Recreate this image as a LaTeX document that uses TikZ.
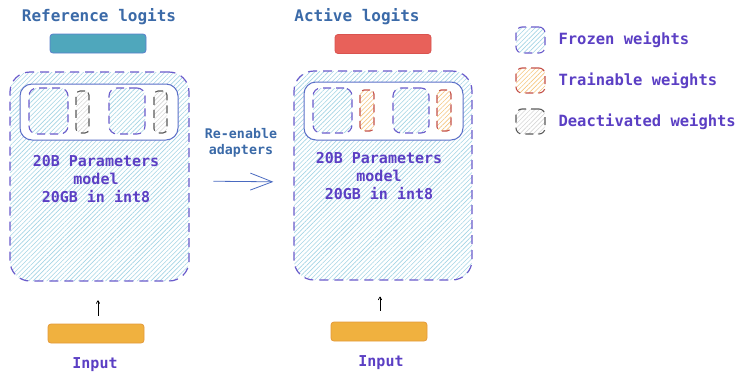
\documentclass[tikz,border=0pt]{standalone}
\usepackage{fontspec}
\setmainfont{DejaVu Sans Mono}
\usetikzlibrary{arrows.meta,patterns.meta}

\definecolor{titleblue}{HTML}{3B6AA8}
\definecolor{labelpurple}{HTML}{5B3FC4}
\definecolor{frozenedge}{HTML}{6A5BCB}
\definecolor{frozenhatch}{HTML}{A3D4E4}
\definecolor{trainedge}{HTML}{C4524A}
\definecolor{trainhatch}{HTML}{F5C67E}
\definecolor{deactedge}{HTML}{5A5A5A}
\definecolor{deacthatch}{HTML}{D6D6D6}
\definecolor{paneledge}{HTML}{5B6FC8}
\definecolor{refbar}{HTML}{4FA7BC}
\definecolor{refedge}{HTML}{5A7FCC}
\definecolor{actbar}{HTML}{E8615A}
\definecolor{actedge}{HTML}{D9534F}
\definecolor{inbar}{HTML}{F0B13F}
\definecolor{inedge}{HTML}{E39A3A}
\definecolor{arrowblue}{HTML}{4A6AC0}

\tikzset{
  model/.style={rectangle, rounded corners=20pt, draw=frozenedge, line width=1.2pt,
    dash pattern=on 9pt off 6pt,
    pattern={Lines[angle=45,distance=3.2pt,line width=0.6pt]}, pattern color=frozenhatch},
  panel/.style={rectangle, rounded corners=12pt, draw=paneledge, line width=1pt, fill=white},
  frozen/.style={rectangle, rounded corners=8pt, draw=frozenedge, line width=1.1pt,
    dash pattern=on 8pt off 5pt,
    pattern={Lines[angle=45,distance=3.2pt,line width=0.6pt]}, pattern color=frozenhatch},
  trainable/.style={rectangle, rounded corners=4pt, draw=trainedge, line width=1.1pt,
    dash pattern=on 8pt off 5pt,
    pattern={Lines[angle=45,distance=3.2pt,line width=0.6pt]}, pattern color=trainhatch},
  deact/.style={rectangle, rounded corners=4pt, draw=deactedge, line width=1.1pt,
    dash pattern=on 8pt off 5pt,
    pattern={Lines[angle=45,distance=3.2pt,line width=0.6pt]}, pattern color=deacthatch},
  bar/.style={rectangle, rounded corners=3pt, line width=0.8pt,
    minimum width=96pt, minimum height=19pt, inner sep=0pt},
  title/.style={text=titleblue, font=\fontsize{16pt}{19pt}\selectfont\bfseries},
  label/.style={text=labelpurple, font=\fontsize{15pt}{18pt}\selectfont\bfseries, align=center},
  legendtext/.style={text=labelpurple, font=\fontsize{15.5pt}{18pt}\selectfont\bfseries, anchor=west},
  feed/.style={-{To[length=3.5pt,width=4pt]}, line width=0.7pt, black},
}

\begin{document}
\begin{tikzpicture}[x=1pt,y=-1pt]
\useasboundingbox (0,0) rectangle (740,373);

% ---- left: reference model ----
\node[title] (refT) at (99,17) {Reference logits};
\node[bar, fill=refbar, draw=refedge] (refB) at (98,43.5) {};
\node[model, minimum width=179pt, minimum height=209pt] (boxL) at (99.5,176.5) {};
\node[panel, minimum width=158pt, minimum height=56pt] (panL) at (99,112) {};
\node[frozen, minimum width=39pt, minimum height=46pt] (fL1) at (48.5,111) {};
\node[deact, minimum width=13pt, minimum height=42pt] (dL1) at (82.5,112) {};
\node[frozen, minimum width=36pt, minimum height=46pt] (fL2) at (127,111) {};
\node[deact, minimum width=13pt, minimum height=42pt] (dL2) at (160.5,112) {};
\node[label] (txtL) at (96,179) {20B Parameters\\model\\20GB in int8};
\node[bar, fill=inbar, draw=inedge] (inL) at (96,333.5) {};
\node[label] (inLT) at (95,365) {Input};
\draw[feed, shorten <=8pt, shorten >=19pt] (inL.north -| 98,0) -- (boxL.south -| 98,0);

% ---- right: active model ----
\node[title] (actT) at (357,17) {Active logits};
\node[bar, fill=actbar, draw=actedge] (actB) at (383,44) {};
\node[model, minimum width=178pt, minimum height=209pt] (boxR) at (383,175.5) {};
\node[panel, minimum width=159pt, minimum height=58pt] (panR) at (383.5,111) {};
\node[frozen, minimum width=39pt, minimum height=45pt] (fR1) at (332.5,110.5) {};
\node[trainable, minimum width=14pt, minimum height=41pt] (tR1) at (367,110.5) {};
\node[frozen, minimum width=36pt, minimum height=45pt] (fR2) at (411,110.5) {};
\node[trainable, minimum width=14pt, minimum height=41pt] (tR2) at (444,110.5) {};
\node[label] (txtR) at (379,176) {20B Parameters\\model\\20GB in int8};
\node[bar, fill=inbar, draw=inedge] (inR) at (379,331.5) {};
\node[label] (inRT) at (381,363) {Input};
\draw[feed, shorten <=11pt, shorten >=16pt] (inR.north -| 380,0) -- (boxR.south -| 380,0);

% ---- transition between the two models ----
\node[text=titleblue, font=\fontsize{13.3pt}{15.5pt}\selectfont\bfseries, align=center]
  (switch) at (241,143) {Re-enable\\adapters};
\coordinate (srcA) at (boxL.east |- 0,181);
\coordinate (dstA) at (boxR.west |- 0,182);
\draw[arrowblue, line width=0.8pt, shorten <=24pt, shorten >=20pt,
  -{Straight Barb[length=22pt,width=17pt,line width=0.8pt]}] (srcA) -- (dstA);

% ---- legend ----
\node[frozen, rounded corners=6pt, minimum width=29pt, minimum height=26pt] (lgF) at (530.5,40) {};
\node[trainable, rounded corners=6pt, minimum width=29pt, minimum height=25pt] (lgT) at (530.5,80.5) {};
\node[deact, rounded corners=6pt, minimum width=29pt, minimum height=25pt] (lgD) at (530.5,121.5) {};
\node[legendtext] (lgFT) at (555,40) {Frozen weights};
\node[legendtext] (lgTT) at (555,81) {Trainable weights};
\node[legendtext] (lgDT) at (555,122) {Deactivated weights};
\end{tikzpicture}
\end{document}
